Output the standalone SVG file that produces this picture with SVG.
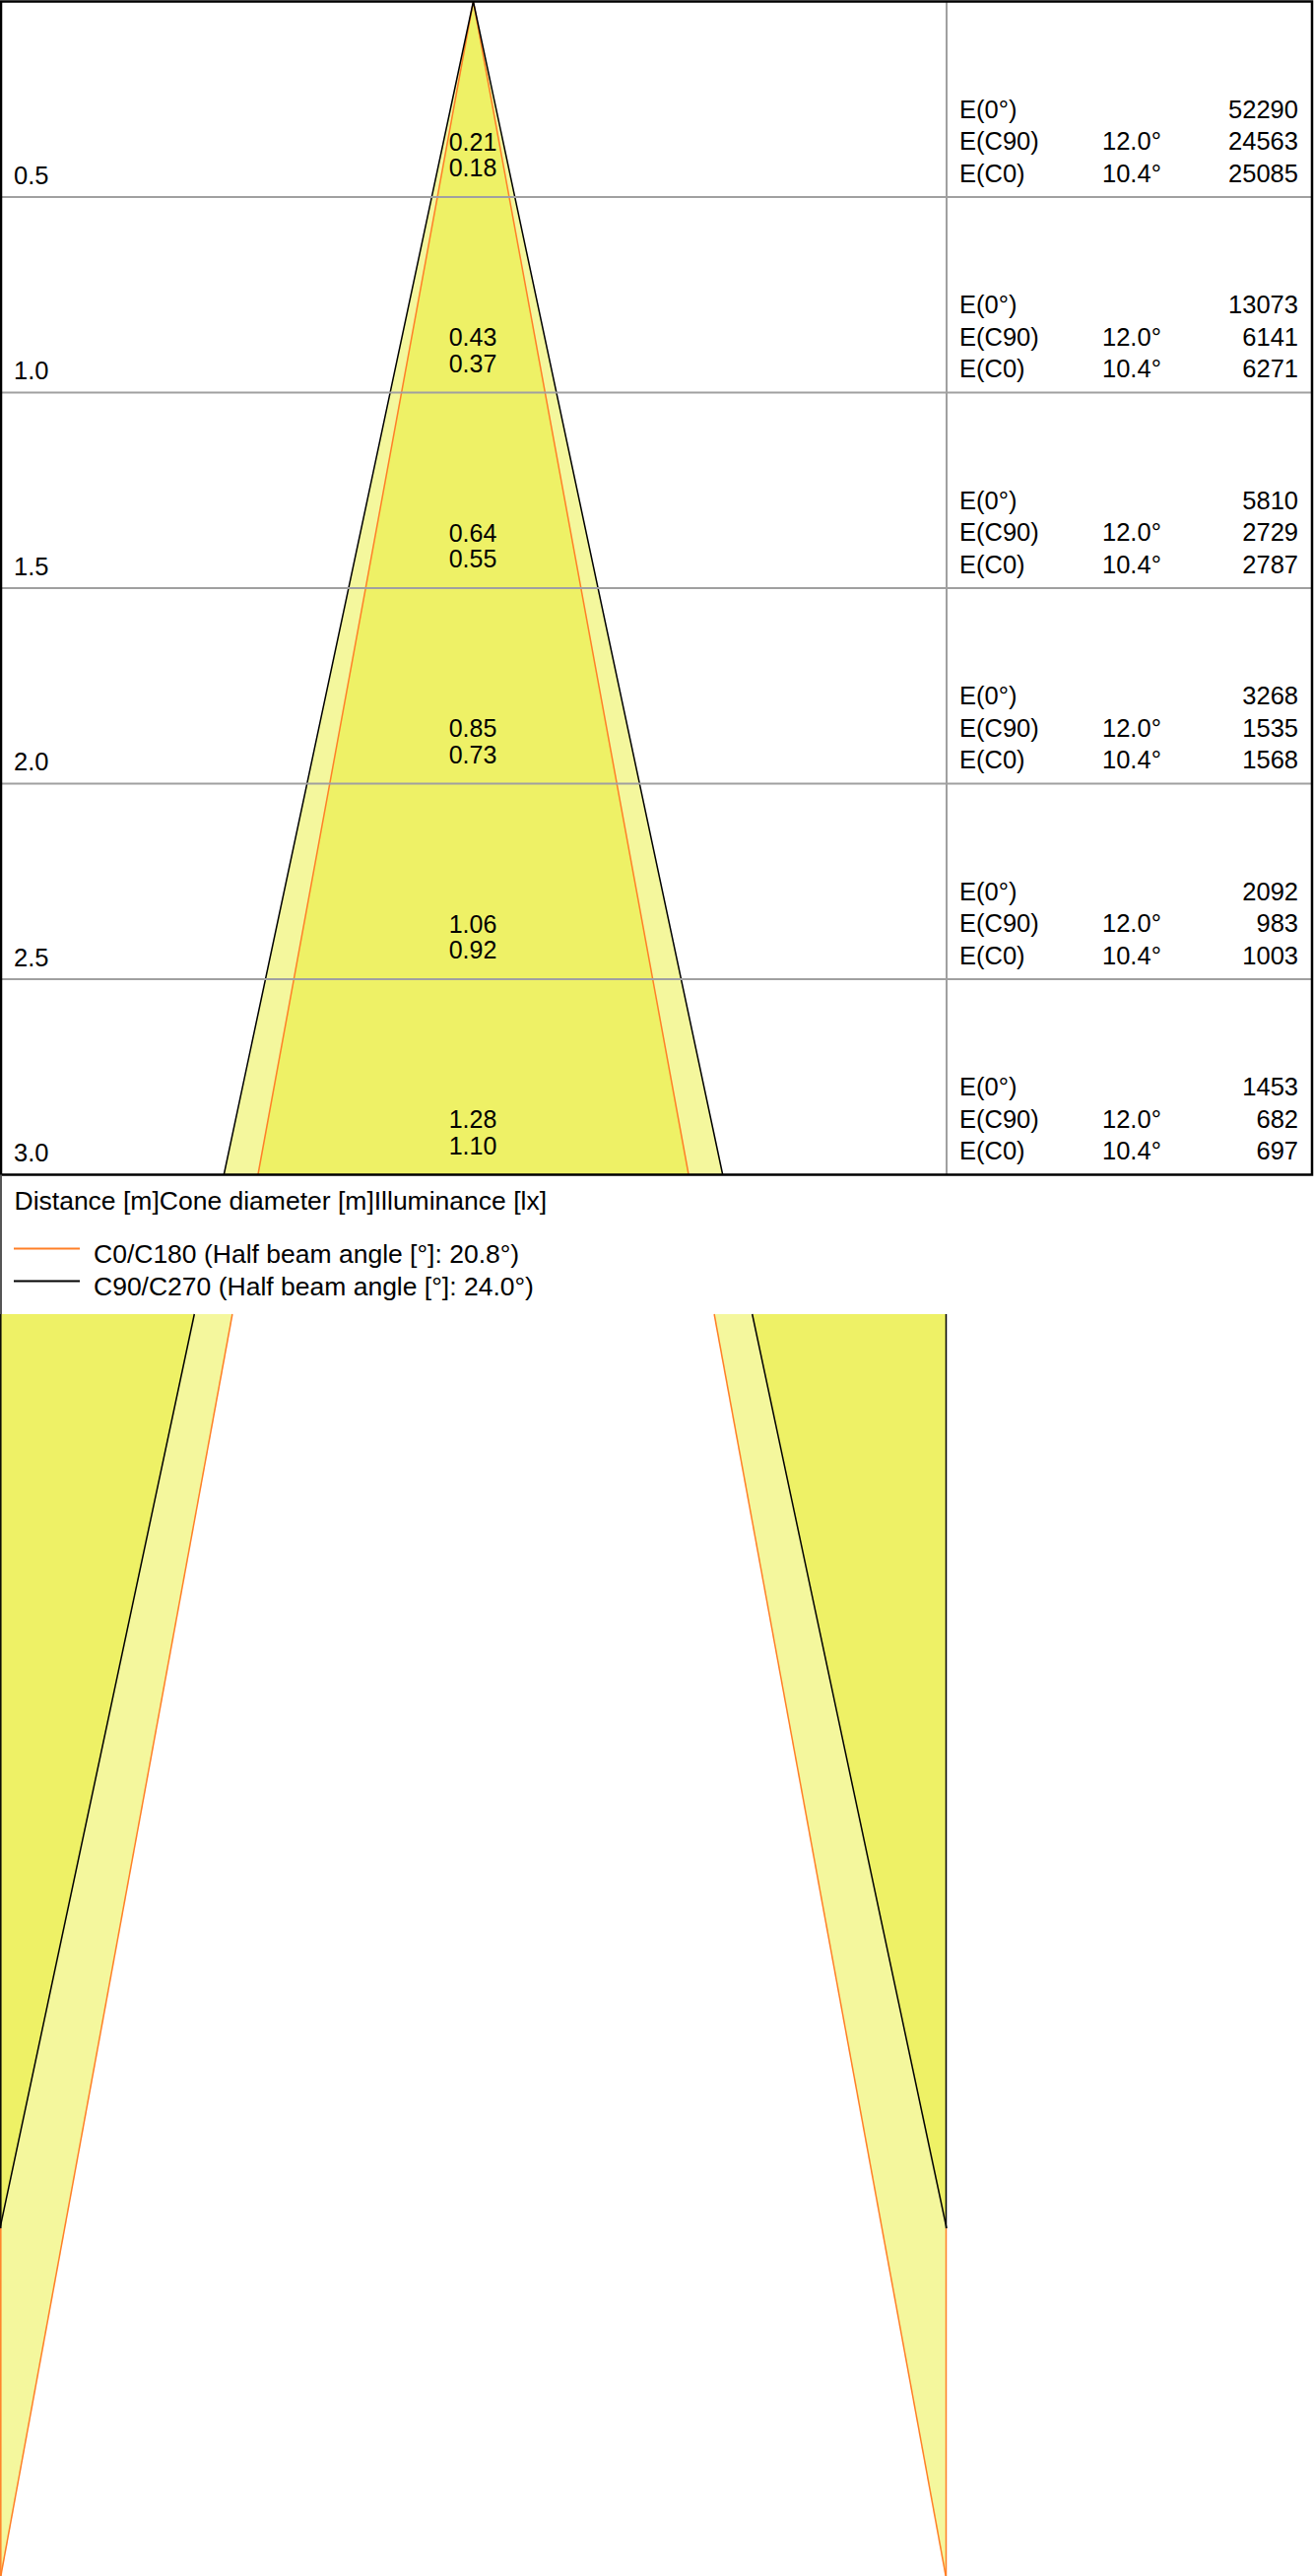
<svg xmlns="http://www.w3.org/2000/svg" width="1334" height="2615" viewBox="0 0 1334 2615">
<style>
text{font-family:"Liberation Sans",Arial,sans-serif;fill:#000}
.t{font-size:25.5px}
.c{font-size:25px;text-anchor:middle}
.r{text-anchor:end}
.h{font-size:26.5px}
.lt{fill:#F4F79D}
.bt{fill:#EEF166}
.ol{stroke:#FF7F27;stroke-width:1.5;fill:none}
.bl{stroke:#000;stroke-width:1.5;fill:none}
.grid{stroke:#A0A0A0;stroke-width:2;fill:none}
</style>
<rect width="1334" height="2615" fill="#fff"/>
<g id="cone">
<polygon class="lt" points="480.5,1.5 227.3,1192.5 733.7,1192.5"/>
<polygon class="bt" points="480.5,1.5 261.9,1192.5 699.1,1192.5"/>
<polyline class="ol" points="261.9,1192.5 480.5,1.5 699.1,1192.5"/>
<polyline class="bl" points="227.3,1192.5 480.5,1.5 733.7,1192.5"/>
</g>
<g id="lower-cone">
<polygon class="lt" points="0,1334 235.9,1334 0.85,2615 0,2615"/>
<polygon class="bt" points="0,1334 197.3,1334 0,2262"/>
<polygon class="lt" points="725.1,1334 961,1334 961,2615 960.15,2615"/>
<polygon class="bt" points="763.7,1334 961,1334 961,2262"/>
<line class="ol" x1="235.9" y1="1334" x2="0.85" y2="2615"/>
<line class="ol" x1="0.8" y1="2262" x2="0.8" y2="2615"/>
<line class="bl" x1="197.3" y1="1334" x2="0" y2="2262"/>
<line class="bl" x1="0.8" y1="1334" x2="0.8" y2="2262"/>
<line class="ol" x1="725.1" y1="1334" x2="960.15" y2="2615"/>
<line class="ol" x1="960.5" y1="2262" x2="960.5" y2="2615"/>
<line class="bl" x1="763.7" y1="1334" x2="961" y2="2262"/>
<line class="bl" x1="960.5" y1="1334" x2="960.5" y2="2262"/>
</g>
<g id="grid">
<line class="grid" x1="961" y1="1.5" x2="961" y2="1192.5" stroke-width="1.5"/>
<line class="grid" x1="1" y1="200" x2="1332" y2="200"/>
<line class="grid" x1="1" y1="398.5" x2="1332" y2="398.5"/>
<line class="grid" x1="1" y1="597" x2="1332" y2="597"/>
<line class="grid" x1="1" y1="795.5" x2="1332" y2="795.5"/>
<line class="grid" x1="1" y1="994" x2="1332" y2="994"/>
<rect x="1" y="1.5" width="1331" height="1191" fill="none" stroke="#000" stroke-width="2.5"/>
<line x1="1" y1="1192.5" x2="1" y2="1334" stroke="#555" stroke-width="2"/>
</g>
<g id="row-0.5">
<text class="t" x="14" y="186.5">0.5</text>
<text class="c" x="480" y="152.5">0.21</text>
<text class="c" x="480" y="179">0.18</text>
<text class="t" x="974" y="119.5">E(0°)</text>
<text class="t r" x="1318" y="119.5">52290</text>
<text class="t" x="974" y="152">E(C90)</text>
<text class="t" x="1119" y="152">12.0°</text>
<text class="t r" x="1318" y="152">24563</text>
<text class="t" x="974" y="184.5">E(C0)</text>
<text class="t" x="1119" y="184.5">10.4°</text>
<text class="t r" x="1318" y="184.5">25085</text>
</g>
<g id="row-1.0" transform="translate(0,198.5)">
<text class="t" x="14" y="186.5">1.0</text>
<text class="c" x="480" y="152.5">0.43</text>
<text class="c" x="480" y="179">0.37</text>
<text class="t" x="974" y="119.5">E(0°)</text>
<text class="t r" x="1318" y="119.5">13073</text>
<text class="t" x="974" y="152">E(C90)</text>
<text class="t" x="1119" y="152">12.0°</text>
<text class="t r" x="1318" y="152">6141</text>
<text class="t" x="974" y="184.5">E(C0)</text>
<text class="t" x="1119" y="184.5">10.4°</text>
<text class="t r" x="1318" y="184.5">6271</text>
</g>
<g id="row-1.5" transform="translate(0,397)">
<text class="t" x="14" y="186.5">1.5</text>
<text class="c" x="480" y="152.5">0.64</text>
<text class="c" x="480" y="179">0.55</text>
<text class="t" x="974" y="119.5">E(0°)</text>
<text class="t r" x="1318" y="119.5">5810</text>
<text class="t" x="974" y="152">E(C90)</text>
<text class="t" x="1119" y="152">12.0°</text>
<text class="t r" x="1318" y="152">2729</text>
<text class="t" x="974" y="184.5">E(C0)</text>
<text class="t" x="1119" y="184.5">10.4°</text>
<text class="t r" x="1318" y="184.5">2787</text>
</g>
<g id="row-2.0" transform="translate(0,595.5)">
<text class="t" x="14" y="186.5">2.0</text>
<text class="c" x="480" y="152.5">0.85</text>
<text class="c" x="480" y="179">0.73</text>
<text class="t" x="974" y="119.5">E(0°)</text>
<text class="t r" x="1318" y="119.5">3268</text>
<text class="t" x="974" y="152">E(C90)</text>
<text class="t" x="1119" y="152">12.0°</text>
<text class="t r" x="1318" y="152">1535</text>
<text class="t" x="974" y="184.5">E(C0)</text>
<text class="t" x="1119" y="184.5">10.4°</text>
<text class="t r" x="1318" y="184.5">1568</text>
</g>
<g id="row-2.5" transform="translate(0,794)">
<text class="t" x="14" y="186.5">2.5</text>
<text class="c" x="480" y="152.5">1.06</text>
<text class="c" x="480" y="179">0.92</text>
<text class="t" x="974" y="119.5">E(0°)</text>
<text class="t r" x="1318" y="119.5">2092</text>
<text class="t" x="974" y="152">E(C90)</text>
<text class="t" x="1119" y="152">12.0°</text>
<text class="t r" x="1318" y="152">983</text>
<text class="t" x="974" y="184.5">E(C0)</text>
<text class="t" x="1119" y="184.5">10.4°</text>
<text class="t r" x="1318" y="184.5">1003</text>
</g>
<g id="row-3.0" transform="translate(0,992.5)">
<text class="t" x="14" y="186.5">3.0</text>
<text class="c" x="480" y="152.5">1.28</text>
<text class="c" x="480" y="179">1.10</text>
<text class="t" x="974" y="119.5">E(0°)</text>
<text class="t r" x="1318" y="119.5">1453</text>
<text class="t" x="974" y="152">E(C90)</text>
<text class="t" x="1119" y="152">12.0°</text>
<text class="t r" x="1318" y="152">682</text>
<text class="t" x="974" y="184.5">E(C0)</text>
<text class="t" x="1119" y="184.5">10.4°</text>
<text class="t r" x="1318" y="184.5">697</text>
</g>
<g id="legend">
<text class="h" x="14.5" y="1228">Distance [m]Cone diameter [m]Illuminance [lx]</text>
<line x1="14" y1="1267.5" x2="81" y2="1267.5" stroke="#FF7F27" stroke-width="2"/>
<text class="h" x="95" y="1281.5">C0/C180 (Half beam angle [°]: 20.8°)</text>
<line x1="14" y1="1300.5" x2="81" y2="1300.5" stroke="#000" stroke-width="2"/>
<text class="h" x="95" y="1315">C90/C270 (Half beam angle [°]: 24.0°)</text>
</g>
</svg>
